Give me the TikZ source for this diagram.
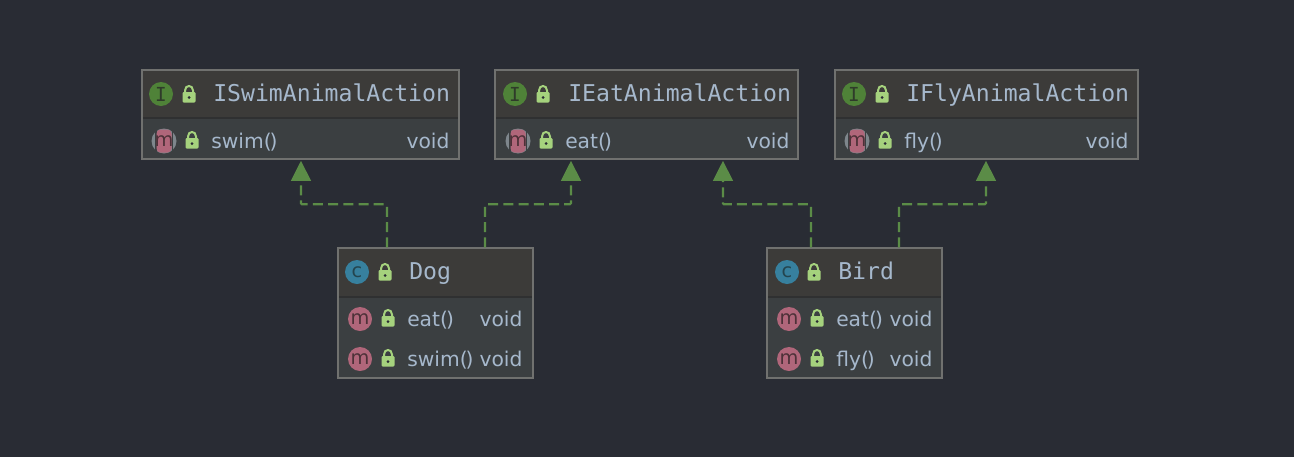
\documentclass[tikz,border=0pt]{standalone}
\usepackage{fontspec}
\setmainfont{DejaVu Sans}
\setmonofont{DejaVu Sans Mono}
\usetikzlibrary{arrows.meta}
\definecolor{bgc}{HTML}{292C34}
\definecolor{headc}{HTML}{3C3B39}
\definecolor{bodyc}{HTML}{3B3F41}
\definecolor{edgec}{HTML}{70716F}
\definecolor{sepc}{HTML}{2F3031}
\definecolor{txtc}{HTML}{A6B8CC}
\definecolor{lockc}{HTML}{A5D27D}
\definecolor{arrc}{HTML}{5B8C47}
\definecolor{ifc}{HTML}{4F8238}
\definecolor{ifl}{HTML}{2F3B2A}
\definecolor{clsc}{HTML}{37809E}
\definecolor{clsl}{HTML}{24454F}
\definecolor{mc}{HTML}{B0667A}
\definecolor{ml}{HTML}{4D3138}
\definecolor{absc}{HTML}{7E868C}
\tikzset{
  x=0.75pt,y=-0.75pt,
  titletext/.style={anchor=base west,inner sep=0pt,text=txtc,font=\fontsize{17.35}{20}\selectfont\ttfamily},
  membertext/.style={anchor=base west,inner sep=0pt,text=txtc,font=\fontsize{15.2}{18}\selectfont},
  typetext/.style={anchor=base east,inner sep=0pt,text=txtc,font=\fontsize{15.2}{18}\selectfont},
  iconletter/.style={inner sep=0pt,font=\fontsize{14.5}{16}\selectfont},
  realize/.style={draw=arrc,line width=1.6pt,dash pattern=on 7.5pt off 3.9pt,rounded corners=0.8pt},
  headtip/.style={fill=arrc,draw=none},
  frameb/.style={draw=edgec,line width=1.5pt,fill=none,inner sep=0pt,anchor=north west},
}
% name, x0, y0, x1, y1, ysplit
\newcommand{\umlbox}[6]{%
  \fill[headc] (#2,#3) rectangle (#4,#6);
  \fill[bodyc] (#2,#6) rectangle (#4,#5);
  \draw[sepc,line width=0.9pt] (#2,#6) -- (#4,#6);
  \pgfmathsetlengthmacro{\bw}{(#4-#2)*0.75pt}%
  \pgfmathsetlengthmacro{\bh}{(#5-#3)*0.75pt}%
  \node[frameb,minimum width=\bw,minimum height=\bh] (#1) at (#2-0.7,#3-0.7) {};
}
% padlock at x, y (body top)
\newcommand{\padlock}[2]{%
  \draw[lockc,line width=1.5pt] (#1-4,#2+1) -- (#1-4,#2-1.5) .. controls (#1-4,#2-7.5) and (#1+4,#2-7.5) .. (#1+4,#2-1.5) -- (#1+4,#2+1);
  \fill[lockc,rounded corners=0.8pt] (#1-6.5,#2) rectangle (#1+6.5,#2+10.5);
  \fill[bgc] (#1,#2+5.5) circle[radius=1.5];
}
% circular icon: x, y, fill, letter colour, letter
\newcommand{\kindicon}[5]{%
  \fill[#3] (#1,#2) circle[radius=12];
  \node[iconletter,text=#4] at (#1,#2) {#5};
}
\newcommand{\absicon}[2]{%
  \fill[absc] (#1,#2) circle[radius=12.5];
  \fill[bodyc] (#1-9,#2-13) rectangle (#1-7.5,#2+13);
  \fill[bodyc] (#1+7.5,#2-13) rectangle (#1+9,#2+13);
  \fill[mc,rounded corners=3pt] (#1-7.5,#2-11.5) rectangle (#1+7.5,#2+11.5);
  \node[iconletter,text=ml] at (#1,#2) {m};
}
\newcommand{\pp}{(\kern-1.5pt)}
\begin{document}
\begin{tikzpicture}
\useasboundingbox (0,0) rectangle (1294,457);
\fill[bgc] (0,0) rectangle (1294,457);

% ISwimAnimalAction
\umlbox{swimbox}{142}{70}{459}{159}{118}
\kindicon{161}{94}{ifc}{ifl}{\ttfamily I}
\padlock{189}{92}
\node[titletext] (swimtitle) at (213,101.5) {ISwimAnimalAction};
\absicon{164}{141}
\padlock{192}{138}
\node[membertext] (swimm) at (211,148) {swim\pp};
\node[typetext] (swimt) at (449.7,148) {void};

% IEatAnimalAction
\umlbox{eatbox}{495}{70}{798}{159}{118}
\kindicon{515}{94}{ifc}{ifl}{\ttfamily I}
\padlock{543}{92}
\node[titletext] (eattitle) at (568,101.5) {IEatAnimalAction};
\absicon{518}{141}
\padlock{546}{138}
\node[membertext] (eatm) at (565,148) {eat\pp};
\node[typetext] (eatt) at (789.7,148) {void};

% IFlyAnimalAction
\umlbox{flybox}{835}{70}{1138}{159}{118}
\kindicon{854}{94}{ifc}{ifl}{\ttfamily I}
\padlock{882}{92}
\node[titletext] (flytitle) at (906,101.5) {IFlyAnimalAction};
\absicon{857}{141}
\padlock{885}{138}
\node[membertext] (flym) at (904,148) {fly\pp};
\node[typetext] (flyt) at (1128.7,148) {void};

% Dog
\umlbox{dogbox}{338}{248}{533}{378}{297}
\kindicon{357}{272}{clsc}{clsl}{c}
\padlock{385}{270}
\node[titletext] (dogtitle) at (409,279.5) {Dog};
\kindicon{360}{319}{mc}{ml}{m}
\padlock{388}{316}
\node[membertext] (dogeat) at (407,326) {eat\pp};
\node[typetext] (dogeatt) at (522.7,326) {void};
\kindicon{360}{359}{mc}{ml}{m}
\padlock{388}{356}
\node[membertext] (dogswim) at (407,366) {swim\pp};
\node[typetext] (dogswimt) at (522.7,366) {void};

% Bird
\umlbox{birdbox}{767}{248}{942}{378}{297}
\kindicon{787}{272}{clsc}{clsl}{c}
\padlock{814}{270}
\node[titletext] (birdtitle) at (838,279.5) {Bird};
\kindicon{789}{319}{mc}{ml}{m}
\padlock{817}{316}
\node[membertext] (birdeat) at (836,326) {eat\pp};
\node[typetext] (birdeatt) at (932.7,326) {void};
\kindicon{789}{359}{mc}{ml}{m}
\padlock{817}{356}
\node[membertext] (birdfly) at (836,366) {fly\pp};
\node[typetext] (birdflyt) at (932.7,366) {void};

% Connector end points, tied to the boxes
\coordinate (ds) at ([xshift=37.25pt]dogbox.north west);
\coordinate (de) at ([xshift=110.75pt]dogbox.north west);
\coordinate (be) at ([xshift=33.5pt]birdbox.north west);
\coordinate (bf) at ([xshift=99.5pt]birdbox.north west);
\coordinate (st) at ([xshift=119.75pt]swimbox.south west);
\coordinate (et1) at ([xshift=57.5pt]eatbox.south west);
\coordinate (et2) at ([xshift=171.5pt]eatbox.south west);
\coordinate (ft) at ([xshift=113.75pt]flybox.south west);

\newcommand{\realizes}[2]{%
  \draw[realize] (#1) -- ++(0,-43) -| ([yshift=-14pt]#2);
  \fill[headtip] ([yshift=-0.4pt]#2) -- ([xshift=-7.6pt,yshift=-15.4pt]#2) -- ([xshift=7.6pt,yshift=-15.4pt]#2) -- cycle;
}
\realizes{ds}{st}
\realizes{de}{et1}
\realizes{be}{et2}
\realizes{bf}{ft}
\end{tikzpicture}
\end{document}
